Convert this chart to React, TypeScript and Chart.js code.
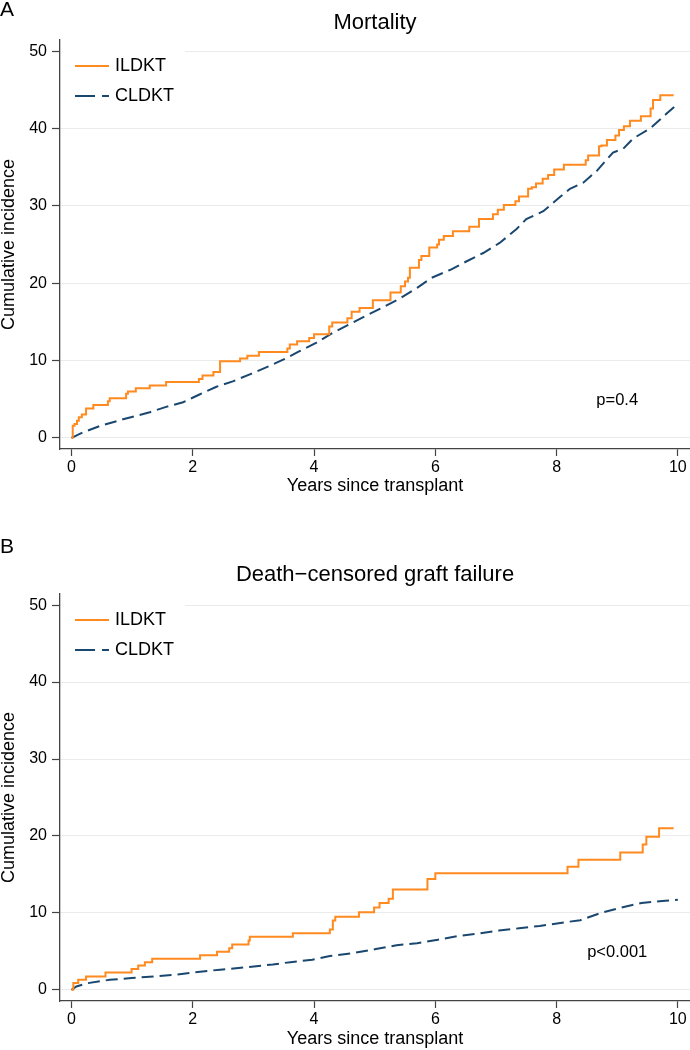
import React, { useEffect, useRef } from "react";
import { Chart, registerables } from "chart.js";

Chart.register(...registerables);

// ---------- data ----------
const xTickValues = [0, 2, 4, 6, 8, 10];
const yTickValues = [0, 10, 20, 30, 40, 50];
const seriesNames = ["ILDKT", "CLDKT"];
const panelLetters = ["A", "B"];
const panelTitles = ["Mortality", "Death\u2212censored graft failure"];
const pValueTexts = ["p=0.4", "p<0.001"];
const xAxisTitle = "Years since transplant";
const yAxisTitle = "Cumulative incidence";

// Panel A: Mortality
const mortIldktT = [0, 0.02, 0.05, 0.09, 0.12, 0.17, 0.24, 0.36, 0.6, 0.63, 0.9, 0.93, 1.06, 1.29, 1.56, 2.1, 2.16, 2.34, 2.45, 2.78, 2.9, 3.09, 3.56, 3.6, 3.72, 3.92, 4.0, 4.25, 4.3, 4.55, 4.62, 4.75, 4.97, 5.26, 5.43, 5.5, 5.55, 5.58, 5.73, 5.77, 5.9, 6.03, 6.06, 6.14, 6.29, 6.56, 6.72, 6.95, 7.03, 7.13, 7.32, 7.38, 7.53, 7.59, 7.66, 7.77, 7.86, 7.96, 8.12, 8.48, 8.52, 8.7, 8.74, 8.83, 8.97, 9.03, 9.11, 9.21, 9.39, 9.55, 9.59, 9.71, 9.93];
const mortIldktV = [0, 1.56, 1.78, 2.2, 2.65, 3.0, 3.8, 4.25, 4.73, 5.1, 5.7, 6.0, 6.4, 6.77, 7.2, 7.6, 8.07, 8.5, 9.9, 10.25, 10.6, 11.1, 11.55, 12.07, 12.5, 12.9, 13.4, 14.4, 14.9, 15.45, 16.3, 16.8, 17.8, 18.8, 19.6, 20.2, 20.7, 22.0, 23.0, 23.5, 24.6, 25.0, 25.6, 26.1, 26.7, 27.3, 28.3, 28.9, 29.5, 30.1, 30.6, 31.2, 32.2, 32.4, 32.9, 33.5, 34.0, 34.7, 35.3, 35.9, 36.5, 37.7, 37.8, 38.5, 39.1, 39.8, 40.3, 41.0, 41.6, 42.6, 43.7, 44.3, 44.3];
const mortCldktT = [0, 0.19, 0.46, 0.85, 1.29, 1.56, 1.84, 2.11, 2.39, 2.66, 2.94, 3.21, 3.49, 3.76, 4.04, 4.31, 4.59, 4.86, 5.14, 5.41, 5.7, 5.94, 6.24, 6.51, 6.79, 7.06, 7.34, 7.5, 7.78, 8.05, 8.22, 8.44, 8.66, 8.93, 9.1, 9.26, 9.54, 9.81, 10.0];
const mortCldktV = [0, 0.7, 1.5, 2.4, 3.3, 4.0, 4.6, 5.6, 6.6, 7.3, 8.2, 9.1, 10.1, 11.2, 12.3, 13.6, 14.7, 15.8, 16.9, 18.0, 19.4, 20.7, 21.7, 22.8, 23.9, 25.2, 27.0, 28.3, 29.3, 31.1, 32.2, 33.0, 34.5, 36.9, 37.4, 38.7, 40.0, 41.9, 43.2];

// Panel B: Death-censored graft failure
const graftIldktT = [0, 0.03, 0.11, 0.24, 0.56, 0.99, 1.1, 1.21, 1.33, 2.12, 2.4, 2.6, 2.65, 2.92, 2.94, 3.65, 4.26, 4.31, 4.35, 4.74, 4.99, 5.08, 5.23, 5.3, 5.87, 6.0, 8.18, 8.36, 9.05, 9.42, 9.48, 9.69, 9.93];
const graftIldktV = [0, 0.9, 1.3, 1.75, 2.25, 2.7, 3.15, 3.6, 4.03, 4.5, 4.95, 5.4, 5.9, 6.4, 6.9, 7.34, 7.85, 9.0, 9.5, 10.1, 10.7, 11.3, 11.85, 13.05, 14.4, 15.15, 16.0, 16.9, 17.85, 18.9, 19.9, 21.0, 21.0];
const graftCldktT = [0, 0.08, 0.27, 0.63, 0.99, 1.36, 1.72, 2.01, 2.45, 2.88, 3.32, 3.61, 3.97, 4.26, 4.63, 5.02, 5.36, 5.7, 6.04, 6.37, 6.71, 7.05, 7.38, 7.72, 8.06, 8.39, 8.73, 9.07, 9.4, 9.74, 10.0];
const graftCldktV = [0, 0.44, 0.87, 1.31, 1.53, 1.75, 1.97, 2.27, 2.62, 2.93, 3.3, 3.6, 3.9, 4.4, 4.76, 5.3, 5.8, 6.05, 6.5, 7.0, 7.3, 7.7, 8.0, 8.3, 8.7, 9.05, 10.0, 10.7, 11.3, 11.55, 11.7];

const pValueX = 9.0;
const pValueY = 4.8;

// ---------- styles ----------
const FONT = '"Liberation Sans", Arial, Helvetica, sans-serif';
const ORANGE = "#ff8a1f";
const NAVY = "#1a476f";
const AXIS = "#444444";
const GRID = "#ebebeb";

type PanelCfg = {
  idx: number;
  top: number;
  height: number;
  plotTop: number;
  plotBottom: number;
  letterY: number;
  titleY: number;
  xTitlePad: number;
  ildktT: number[];
  ildktV: number[];
  cldktT: number[];
  cldktV: number[];
};

const panels: PanelCfg[] = [
  {
    idx: 0, top: 0, height: 525, plotTop: 40, plotBottom: 449, letterY: 10.5, titleY: 22.5, xTitlePad: 29.5,
    ildktT: mortIldktT, ildktV: mortIldktV, cldktT: mortCldktT, cldktV: mortCldktV,
  },
  {
    idx: 1, top: 525, height: 525, plotTop: 69, plotBottom: 476, letterY: 22.5, titleY: 49.5, xTitlePad: 2,
    ildktT: graftIldktT, ildktV: graftIldktV, cldktT: graftCldktT, cldktV: graftCldktV,
  },
];

function toPoints(t: number[], v: number[]) {
  return t.map((x, i) => ({ x, y: v[i] }));
}

function Panel({ cfg }: { cfg: PanelCfg }) {
  const ref = useRef<HTMLCanvasElement | null>(null);

  useEffect(() => {
    if (!ref.current) return;
    const overlay = {
      id: "overlay" + cfg.idx,
      afterDraw(chart: any) {
        const { ctx, chartArea, scales } = chart;
        ctx.save();
        // panel letter
        ctx.fillStyle = "#000";
        ctx.font = `21px ${FONT}`;
        ctx.textAlign = "left";
        ctx.textBaseline = "middle";
        ctx.fillText(panelLetters[cfg.idx], 0, cfg.letterY);
        // title
        ctx.font = `22px ${FONT}`;
        ctx.textAlign = "center";
        ctx.fillText(panelTitles[cfg.idx], (chartArea.left + chartArea.right) / 2, cfg.titleY);
        // legend box
        ctx.fillStyle = "#ffffff";
        ctx.fillRect(chartArea.left + 1, chartArea.top, 185 - chartArea.left - 1, 76);
        const y1 = chartArea.top + 26;
        const y2 = chartArea.top + 56;
        ctx.lineWidth = 2;
        ctx.lineCap = "butt";
        ctx.strokeStyle = ORANGE;
        ctx.setLineDash([]);
        ctx.beginPath();
        ctx.moveTo(75, y1);
        ctx.lineTo(109, y1);
        ctx.stroke();
        ctx.strokeStyle = NAVY;
        ctx.setLineDash([20, 7]);
        ctx.beginPath();
        ctx.moveTo(75, y2);
        ctx.lineTo(109, y2);
        ctx.stroke();
        ctx.setLineDash([]);
        ctx.fillStyle = "#000";
        ctx.font = `18px ${FONT}`;
        ctx.textAlign = "left";
        ctx.fillText(seriesNames[0], 115, y1);
        ctx.fillText(seriesNames[1], 115, y2);
        // p-value
        ctx.font = `16.5px ${FONT}`;
        ctx.textAlign = "center";
        ctx.fillText(
          pValueTexts[cfg.idx],
          scales.x.getPixelForValue(pValueX),
          scales.y.getPixelForValue(pValueY)
        );
        ctx.restore();
      },
    };

    const chart = new Chart(ref.current, {
      type: "line",
      data: {
        datasets: [
          {
            label: seriesNames[0],
            data: toPoints(cfg.ildktT, cfg.ildktV),
            borderColor: ORANGE,
            backgroundColor: ORANGE,
            borderWidth: 2,
            pointRadius: 0,
            stepped: "before",
            fill: false,
            borderJoinStyle: "miter",
          },
          {
            label: seriesNames[1],
            data: toPoints(cfg.cldktT, cfg.cldktV),
            borderColor: NAVY,
            backgroundColor: NAVY,
            borderWidth: 2,
            borderDash: [12, 6],
            pointRadius: 0,
            fill: false,
            tension: 0,
          },
        ],
      },
      options: {
        responsive: false,
        animation: false,
        devicePixelRatio: 1,
        layout: { padding: { top: cfg.plotTop, left: 0, right: 0, bottom: 0 } },
        plugins: {
          legend: { display: false },
          tooltip: { enabled: false },
          title: { display: false },
        },
        scales: {
          x: {
            type: "linear",
            min: -0.19,
            max: 10.2,
            afterBuildTicks: (s: any) => {
              s.ticks = xTickValues.map((v) => ({ value: v }));
            },
            afterFit: (s: any) => {
              s.height = cfg.height - cfg.plotBottom;
            },
            grid: {
              drawOnChartArea: false,
              drawTicks: true,
              tickLength: 7,
              tickColor: AXIS,
              tickWidth: 1.2,
            },
            border: { display: true, color: AXIS, width: 1.3 },
            ticks: {
              color: "#000",
              font: { family: FONT, size: 16 },
              padding: 2,
              maxRotation: 0,
              autoSkip: false,
              callback: (v: any) => String(v),
            },
            title: {
              display: true,
              text: xAxisTitle,
              color: "#000",
              font: { family: FONT, size: 18, lineHeight: 1 },
              padding: { top: 0, bottom: cfg.xTitlePad },
            },
          },
          y: {
            type: "linear",
            min: -1.45,
            max: 51.45,
            afterBuildTicks: (s: any) => {
              s.ticks = yTickValues.map((v) => ({ value: v }));
            },
            afterFit: (s: any) => {
              s.width = 60;
            },
            grid: {
              color: GRID,
              lineWidth: 1,
              drawTicks: true,
              tickLength: 8,
              tickColor: AXIS,
              tickWidth: 1.2,
            },
            border: { display: true, color: AXIS, width: 1.3 },
            ticks: {
              color: "#000",
              font: { family: FONT, size: 16 },
              padding: 5,
              autoSkip: false,
              callback: (v: any) => String(v),
            },
            title: {
              display: true,
              text: yAxisTitle,
              color: "#000",
              font: { family: FONT, size: 18, lineHeight: 1 },
              padding: { top: 0, bottom: 0 },
            },
          },
        },
      } as any,
      plugins: [overlay],
    });
    return () => chart.destroy();
  }, [cfg]);

  return (
    <canvas
      ref={ref}
      width={690}
      height={cfg.height}
      style={{ position: "absolute", left: 0, top: cfg.top, width: 690, height: cfg.height, display: "block" }}
    />
  );
}

export default function App() {
  return (
    <div style={{ position: "absolute", left: 0, top: 0, width: 690, height: 1050, background: "#ffffff" }}>
      {panels.map((p) => (
        <Panel key={p.idx} cfg={p} />
      ))}
    </div>
  );
}
